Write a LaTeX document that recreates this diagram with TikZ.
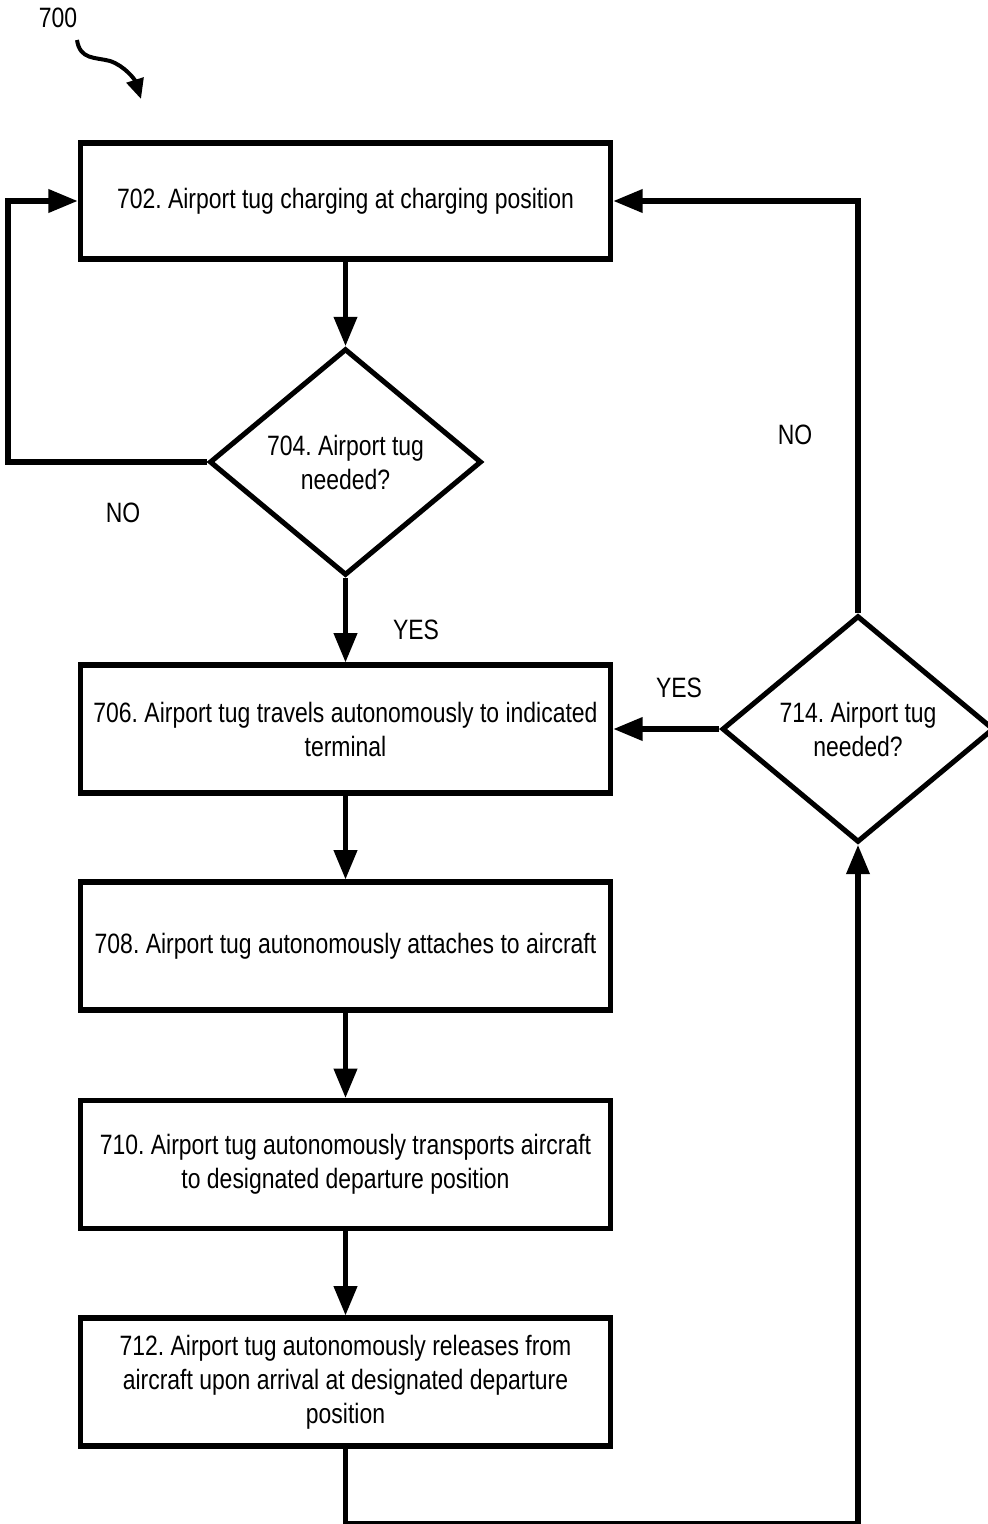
\documentclass[tikz,border=0pt]{standalone}
\usepackage{fontspec}
\setmainfont{Liberation Sans}[FakeStretch=0.82]
\usetikzlibrary{shapes.geometric,arrows.meta}
\frenchspacing
\begin{document}
\begin{tikzpicture}[x=0.75pt,y=-0.75pt,
  every node/.style={font=\fontsize{21}{25.5}\selectfont},
  stepbox/.style={draw,line width=3.8pt,minimum width=398pt,minimum height=96pt,align=center,inner sep=0pt},
  decision/.style={draw,diamond,line width=3.8pt,minimum width=204pt,minimum height=170pt,align=center,inner sep=0pt},
  flow/.style={line width=3.8pt,-{Triangle[length=22pt,width=17pt]}},
  lbl/.style={inner sep=0pt}]
\useasboundingbox (0,0) rectangle (988,1524);

% process steps
\node[stepbox,minimum height=87pt] (n702) at (345.5,201) {702. Airport tug charging at charging position};
\node[decision] (n704) at (345.5,462) {704. Airport tug\\needed?};
\node[stepbox] (n706) at (345.5,729) {706. Airport tug travels autonomously to indicated\\terminal};
\node[stepbox] (n708) at (345.5,946) {708. Airport tug autonomously attaches to aircraft};
\node[stepbox] (n710) at (345.5,1164.5) {710. Airport tug autonomously transports aircraft\\to designated departure position};
\node[stepbox] (n712) at (345.5,1382) {712. Airport tug autonomously releases from\\aircraft upon arrival at designated departure\\position};
\node[decision] (n714) at (858,729) {714. Airport tug\\needed?};

% figure reference
\node[lbl] (ref) at (58,18) {700};
\draw[line width=3pt,-{Triangle[length=15pt,width=13pt]}]
  (77,40) .. controls (80,60) and (95,57) .. (110,61)
  .. controls (125,66) and (135,80) .. (141,99);

% connectors
\draw[flow] (n702) -- (n704);
\draw[flow] (n704) -- (n706);
\draw[flow] (n704.west) -- ++(-199,0) |- (n702.west);
\draw[flow] (n706) -- (n708);
\draw[flow] (n708) -- (n710);
\draw[flow] (n710) -- (n712);
\draw[flow] (n714.west) -- (n706.east);
\draw[flow] (n714.north) |- (n702.east);
\draw[flow] (n712.south) -- ++(0,75) -| (n714.south);

% branch labels
\node[lbl] (no1) at (123,513) {NO};
\node[lbl] (yes1) at (416,630) {YES};
\node[lbl] (no2) at (795,435) {NO};
\node[lbl] (yes2) at (679,688) {YES};
\end{tikzpicture}
\end{document}
